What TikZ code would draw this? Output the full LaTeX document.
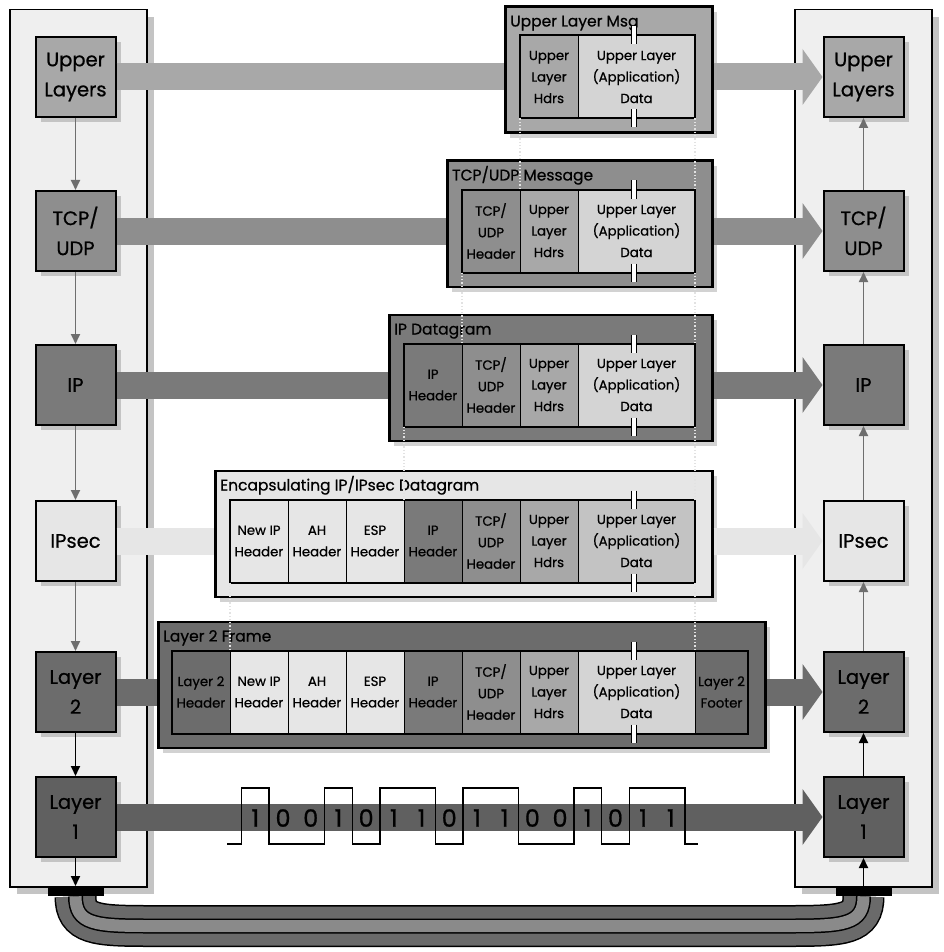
\documentclass[tikz,border=0pt]{standalone}
\usepackage{fontspec}
\setmainfont{Poppins}[FakeBold=0.7]
\usetikzlibrary{arrows.meta,shadows}
\definecolor{panelc}{HTML}{EFEFEF}
\definecolor{cUL}{HTML}{A8A8A8}
\definecolor{cTCP}{HTML}{8E8E8E}
\definecolor{cIP}{HTML}{7A7A7A}
\definecolor{cSEC}{HTML}{E6E6E6}
\definecolor{cLtwo}{HTML}{6C6C6C}
\definecolor{cLone}{HTML}{606060}
\definecolor{cData}{HTML}{D4D4D4}
\definecolor{cShadow}{HTML}{C4C4C4}
\definecolor{cShadowL}{HTML}{D2D2D2}
\definecolor{cArrow}{HTML}{6E6E6E}
\definecolor{cDot}{HTML}{E2E2E2}
\definecolor{cCabA}{HTML}{6A6A6A}
\definecolor{cCabB}{HTML}{8A8A8A}
\newcommand\myLfont{\fontsize{19.5}{30}\selectfont}
\newcommand\myCfont{\fontsize{13.3}{21.5}\selectfont}
\newcommand\myTfont{\fontsize{15.5}{18}\selectfont}
\newcommand\myDfont{\fontsize{24}{24}\selectfont}
\begin{document}
\begin{tikzpicture}[x=1pt,y=-1pt,
  panel/.style={draw=black, line width=1.5pt, fill=panelc, inner sep=0pt, anchor=north west, minimum width=137pt, minimum height=877pt, drop shadow={shadow xshift=7pt, shadow yshift=-7pt, fill=cShadow, opacity=1}},
  lbox/.style={draw=black, line width=2pt, minimum width=80pt, minimum height=80pt, inner sep=0pt, align=center, font=\myLfont, drop shadow={shadow xshift=5pt, shadow yshift=-5pt, fill=cShadow, opacity=1}},
  obox/.style={draw=black, line width=2.5pt, anchor=north west, minimum height=126pt, inner sep=0pt, drop shadow={shadow xshift=5pt, shadow yshift=-5pt, fill=cShadowL, opacity=1}},
  cell/.style={draw=black, line width=0.8pt, anchor=west, minimum height=83pt, inner sep=0pt, outer sep=0pt, align=center, font=\myCfont},
  ttl/.style={anchor=base west, inner sep=0pt, font=\myTfont},
  varrow/.style={line width=1.8pt, draw=cArrow, -{Triangle[length=10pt,width=9pt]}},
  karrow/.style={line width=1.8pt, draw=black, -{Triangle[length=10pt,width=9pt]}},
  dots/.style={draw=cDot, line width=1.3pt, dotted},
  bar/.style={line width=27pt},
  harrow/.style={line width=27pt, -{Triangle[length=20pt,width=56pt,line width=0pt]}},
  digit/.style={font=\myDfont, inner sep=0pt},
  con/.style={fill=black, minimum width=56pt, minimum height=10pt, inner sep=0pt, anchor=north}
]
\useasboundingbox (0,0) rectangle (943,952);

% panels
\node[panel] (lpanel) at (9,9) {};
\node[panel] (rpanel) at (794,9) {};

% connectors and cable
\node[con] (lcon) at (75.5,886) {};
\node[con] (rcon) at (863.5,886) {};
\coordinate (k1) at (150,926);
\coordinate (k2) at (789,926);
\foreach \w/\c in {42/black,39/cCabA,15/black,12/cCabB}
  \draw[line width=\w pt, \c] (lcon.south) .. controls ([yshift=-28pt]lcon.south) and ([xshift=-55pt]k1) .. (k1) -- (k2) .. controls ([xshift=55pt]k2) and ([yshift=-28pt]rcon.south) .. (rcon.south);
\node[con] (lcon2) at (75.5,886) {};
\node[con] (rcon2) at (863.5,886) {};

% layer boxes
\node[lbox, fill=cUL] (lUL) at (75.5,77) {Upper\\Layers};
\node[lbox, fill=cTCP] (lTCP) at (75.5,231) {TCP/\\UDP};
\node[lbox, fill=cIP] (lIP) at (75.5,385) {IP};
\node[lbox, fill=cSEC] (lSEC) at (75.5,541) {IPsec};
\node[lbox, fill=cLtwo] (lL2) at (75.5,692) {Layer\\2};
\node[lbox, fill=cLone] (lL1) at (75.5,817) {Layer\\1};
\node[lbox, fill=cUL] (rUL) at (863.5,77) {Upper\\Layers};
\node[lbox, fill=cTCP] (rTCP) at (863.5,231) {TCP/\\UDP};
\node[lbox, fill=cIP] (rIP) at (863.5,385) {IP};
\node[lbox, fill=cSEC] (rSEC) at (863.5,541) {IPsec};
\node[lbox, fill=cLtwo] (rL2) at (863.5,692) {Layer\\2};
\node[lbox, fill=cLone] (rL1) at (863.5,817) {Layer\\1};

% vertical arrows
\draw[varrow] (lUL) -- (lTCP);
\draw[varrow] (lTCP) -- (lIP);
\draw[varrow] (lIP) -- (lSEC);
\draw[varrow] (lSEC) -- (lL2);
\draw[karrow] (lL2) -- (lL1);
\draw[karrow] (lL1) -- (lcon2);
\draw[varrow] (rTCP) -- (rUL);
\draw[varrow] (rIP) -- (rTCP);
\draw[varrow] (rSEC) -- (rIP);
\draw[varrow] (rL2) -- (rSEC);
\draw[karrow] (rL1) -- (rL2);
\draw[karrow] (rcon2) -- (rL1);

% outer message boxes
\node[obox, fill=cUL, minimum width=207pt] (msg1) at (504,5.5) {};
\node[obox, fill=cTCP, minimum width=265pt] (msg2) at (446,159.5) {};
\node[obox, fill=cIP, minimum width=323pt] (msg3) at (388,313.5) {};
\node[obox, fill=cSEC, minimum width=497pt] (msg4) at (214,469.5) {};
\node[obox, fill=cLtwo, minimum width=607pt] (msg5) at (157,620.5) {};

% horizontal bars and arrows
\draw[bar, cUL] (lUL.east) -- (lUL.east -| msg1.west);
\draw[harrow, cUL] (msg1.east |- rUL) -- (rUL.west);
\draw[bar, cTCP] (lTCP.east) -- (lTCP.east -| msg2.west);
\draw[harrow, cTCP] (msg2.east |- rTCP) -- (rTCP.west);
\draw[bar, cIP] (lIP.east) -- (lIP.east -| msg3.west);
\draw[harrow, cIP] (msg3.east |- rIP) -- (rIP.west);
\draw[bar, cSEC] (lSEC.east) -- (lSEC.east -| msg4.west);
\draw[harrow, cSEC] (msg4.east |- rSEC) -- (rSEC.west);
\draw[bar, cLtwo] (lL2.east) -- (lL2.east -| msg5.west);
\draw[harrow, cLtwo] (msg5.east |- rL2) -- (rL2.west);
\draw[harrow, cLone] (lL1.east) -- (rL1.west);

% titles
\node[ttl] (t1) at (510,26.5) {Upper Layer Msg};
\node[ttl] (t2) at (452,180.5) {TCP/UDP Message};
\node[ttl] (t3) at (394,334.5) {IP Datagram};
\node[ttl] (t4) at (220,490.5) {Encapsulating IP/IPsec Datagram};
\node[ttl] (t5) at (163,641.5) {Layer 2 Frame};

% row 1
\node[cell, fill=cUL, minimum width=58pt] (m1h) at (520,77) {Upper\\Layer\\Hdrs};
\node[cell, fill=cData, minimum width=117pt] (m1d) at (578,77) {Upper Layer\\(Application)\\Data};
\draw[line width=2pt] (m1h.north west) rectangle (m1d.south east);
% row 2
\node[cell, fill=cTCP, minimum width=58pt] (m2t) at (462,231) {TCP/\\UDP\\Header};
\node[cell, fill=cUL, minimum width=58pt] (m2h) at (520,231) {Upper\\Layer\\Hdrs};
\node[cell, fill=cData, minimum width=117pt] (m2d) at (578,231) {Upper Layer\\(Application)\\Data};
\draw[line width=2pt] (m2t.north west) rectangle (m2d.south east);
% row 3
\node[cell, fill=cIP, minimum width=58pt] (m3i) at (404,385) {IP\\Header};
\node[cell, fill=cTCP, minimum width=58pt] (m3t) at (462,385) {TCP/\\UDP\\Header};
\node[cell, fill=cUL, minimum width=58pt] (m3h) at (520,385) {Upper\\Layer\\Hdrs};
\node[cell, fill=cData, minimum width=117pt] (m3d) at (578,385) {Upper Layer\\(Application)\\Data};
\draw[line width=2pt] (m3i.north west) rectangle (m3d.south east);
% row 4
\node[cell, fill=cSEC, minimum width=58pt] (m4n) at (230,541) {New IP\\Header};
\node[cell, fill=cSEC, minimum width=58pt] (m4a) at (288,541) {AH\\Header};
\node[cell, fill=cSEC, minimum width=58pt] (m4e) at (346,541) {ESP\\Header};
\node[cell, fill=cIP, minimum width=58pt] (m4i) at (404,541) {IP\\Header};
\node[cell, fill=cTCP, minimum width=58pt] (m4t) at (462,541) {TCP/\\UDP\\Header};
\node[cell, fill=cUL, minimum width=58pt] (m4h) at (520,541) {Upper\\Layer\\Hdrs};
\node[cell, fill=cData!92!black, minimum width=117pt] (m4d) at (578,541) {Upper Layer\\(Application)\\Data};
\draw[line width=2pt] (m4n.north west) rectangle (m4d.south east);
% row 5
\node[cell, fill=cLtwo, minimum width=58pt] (m5l) at (172,692) {Layer 2\\Header};
\node[cell, fill=cSEC, minimum width=58pt] (m5n) at (230,692) {New IP\\Header};
\node[cell, fill=cSEC, minimum width=58pt] (m5a) at (288,692) {AH\\Header};
\node[cell, fill=cSEC, minimum width=58pt] (m5e) at (346,692) {ESP\\Header};
\node[cell, fill=cIP, minimum width=58pt] (m5i) at (404,692) {IP\\Header};
\node[cell, fill=cTCP, minimum width=58pt] (m5t) at (462,692) {TCP/\\UDP\\Header};
\node[cell, fill=cUL, minimum width=58pt] (m5h) at (520,692) {Upper\\Layer\\Hdrs};
\node[cell, fill=cData, minimum width=117pt] (m5d) at (578,692) {Upper Layer\\(Application)\\Data};
\node[cell, fill=cLtwo, minimum width=53pt] (m5f) at (695,692) {Layer 2\\Footer};
\draw[line width=2pt] (m5l.north west) rectangle (m5f.south east);

% break marks
\foreach \yy in {77,231,385,541,692} {
  \foreach \e in {-41.5,41.5} {
    \fill[white] (631.5,\yy+\e-9) rectangle (636.5,\yy+\e+9);
    \draw[line width=1.8pt] (631.5,\yy+\e-9) -- (631.5,\yy+\e+9);
    \draw[line width=1.8pt] (636.5,\yy+\e-9) -- (636.5,\yy+\e+9);
  }
}

% dotted guide lines
\draw[dots] (m1h.south west) -- (m2h.north west);
\draw[dots] (m1d.south east) -- (m2d.north east);
\draw[dots] (m2t.south west) -- (m3t.north west);
\draw[dots] (m2d.south east) -- (m3d.north east);
\draw[dots] (m3i.south west) -- (m4i.north west);
\draw[dots] (m3d.south east) -- (m4d.north east);
\draw[dots] (m4n.south west) -- (m5n.north west);
\draw[dots] (m4d.south east) -- (m5d.north east);

% bit stream
\foreach \b [count=\k from 0] in {1,0,0,1,0,1,1,0,1,1,0,0,1,0,1,1}
  \node[digit] (d\k) at (241.5+27.7*\k+13.85,818) {\b};
\draw[line width=1.6pt] (227,844) -- (241.5,844) -- (241.5,788) -- (269.2,788) -- (269.2,844)
  -- (324.6,844) -- (324.6,788) -- (352.3,788) -- (352.3,844) -- (380,844) -- (380,788)
  -- (435.4,788) -- (435.4,844) -- (463.1,844) -- (463.1,788) -- (518.5,788) -- (518.5,844)
  -- (573.9,844) -- (573.9,788) -- (601.6,788) -- (601.6,844) -- (629.3,844) -- (629.3,788)
  -- (684.7,788) -- (684.7,844) -- (698,844);
\end{tikzpicture}
\end{document}
